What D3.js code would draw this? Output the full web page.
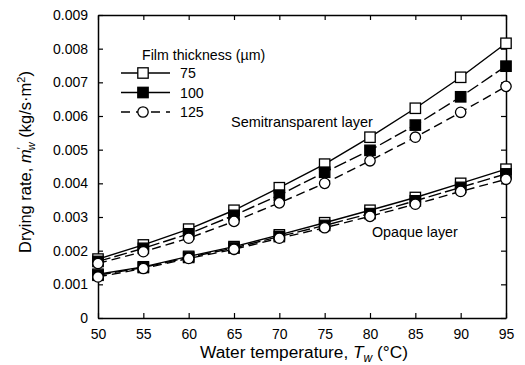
<!DOCTYPE html>
<html>
<head>
<meta charset="utf-8">
<script src="https://cdn.jsdelivr.net/npm/d3@7"></script>
<style>
  body { margin: 0; background: #fff; }
  text { font-family: "Liberation Sans", Arial, sans-serif; fill: #000; }
</style>
</head>
<body>
<div id="chart"></div>
<script>
// water temperature (deg C)
const temps = [50, 55, 60, 65, 70, 75, 80, 85, 90, 95];
const thickness = ["75", "100", "125"];

// drying rate, semitransparent layer (kg/s·m2)
const semi75  = [0.00175, 0.00217, 0.00264, 0.00320, 0.00387, 0.00457, 0.00537, 0.00623, 0.00715, 0.00816];
const semi100 = [0.00168, 0.00207, 0.00250, 0.00305, 0.00365, 0.00433, 0.00498, 0.00573, 0.00657, 0.00748];
const semi125 = [0.00162, 0.00197, 0.00237, 0.00287, 0.00342, 0.00400, 0.00467, 0.00537, 0.00611, 0.00688];

// drying rate, opaque layer
const opaq75  = [0.00130, 0.00152, 0.00183, 0.00212, 0.00247, 0.00283, 0.00320, 0.00358, 0.00400, 0.00442];
const opaq100 = [0.00127, 0.00150, 0.00180, 0.00208, 0.00242, 0.00275, 0.00310, 0.00348, 0.00388, 0.00428];
const opaq125 = [0.00122, 0.00147, 0.00177, 0.00204, 0.00237, 0.00268, 0.00302, 0.00338, 0.00376, 0.00412];

const xTicks = [50, 55, 60, 65, 70, 75, 80, 85, 90, 95];
const yTicks = [0, 0.001, 0.002, 0.003, 0.004, 0.005, 0.006, 0.007, 0.008, 0.009];

const series = [
  { key: "75",  vals: semi75,  marker: "sqOpen" },
  { key: "100", vals: semi100, marker: "sqFill" },
  { key: "125", vals: semi125, marker: "circ" },
  { key: "75",  vals: opaq75,  marker: "sqOpen" },
  { key: "100", vals: opaq100, marker: "sqFill" },
  { key: "125", vals: opaq125, marker: "circ" }
];
const dashes = { "75": null, "100": "13,4", "125": "9,5" };

var W = 525, H = 365;
var margin = {top: 15, right: 19, bottom: 47, left: 98},
  width = W - margin.left - margin.right,
  height = H - margin.top - margin.bottom;

var svg = d3.select("#chart").append("svg")
  .attr("width", W)
  .attr("height", H);

var g = svg.append("g")
  .attr("transform", "translate(" + margin.left + "," + margin.top + ")");

var x = d3.scaleLinear().domain([50, 95]).range([0, width]);
var y = d3.scaleLinear().domain([0, 0.009]).range([height, 0]);

// axes, ticks pointing inward on all four sides
function styleAxis(sel) {
  sel.selectAll("path").attr("stroke", "#000").attr("stroke-width", 1.5);
  sel.selectAll("line").attr("stroke", "#000").attr("stroke-width", 1.2);
}

g.append("g")
  .attr("transform", "translate(0," + height + ")")
  .call(d3.axisBottom(x).tickValues(xTicks).tickSizeInner(-5).tickSizeOuter(0).tickPadding(11).tickFormat(d3.format("d")))
  .call(styleAxis)
  .selectAll("text").style("font-size", "14px").attr("font-family", null);

g.append("g")
  .call(d3.axisTop(x).tickValues(xTicks).tickSizeInner(-5).tickSizeOuter(0).tickFormat(""))
  .call(styleAxis);

g.append("g")
  .call(d3.axisLeft(y).tickValues(yTicks).tickSizeInner(-5).tickSizeOuter(0).tickPadding(10)
    .tickFormat(d => d === 0 ? "0" : d3.format(".3f")(d)))
  .call(styleAxis)
  .selectAll("text").style("font-size", "14px").attr("font-family", null);

g.append("g")
  .attr("transform", "translate(" + width + ",0)")
  .call(d3.axisRight(y).tickValues(yTicks).tickSizeInner(-5).tickSizeOuter(0).tickFormat(""))
  .call(styleAxis);

var line = d3.line()
  .x((d, i) => x(temps[i]))
  .y(d => y(d));

function drawMarker(sel, type, cx, cy) {
  if (type === "circ") {
    sel.append("circle").attr("cx", cx).attr("cy", cy).attr("r", 5.2)
      .attr("fill", "#fff").attr("stroke", "#000").attr("stroke-width", 1.3);
  } else {
    sel.append("rect").attr("x", cx - 5.2).attr("y", cy - 5.2).attr("width", 10.4).attr("height", 10.4)
      .attr("fill", type === "sqFill" ? "#000" : "#fff").attr("stroke", "#000").attr("stroke-width", 1.3);
  }
}

series.forEach(function(s) {
  g.append("path")
    .datum(s.vals)
    .attr("d", line)
    .attr("fill", "none")
    .attr("stroke", "#000")
    .attr("stroke-width", 1.4)
    .attr("stroke-dasharray", dashes[s.key]);
});
series.forEach(function(s) {
  var mg = g.append("g");
  s.vals.forEach((v, i) => drawMarker(mg, s.marker, x(temps[i]), y(v)));
});

// legend
var leg = svg.append("g");
leg.append("text").attr("x", 142).attr("y", 59.5).style("font-size", "14.2px").text("Film thickness (\u00b5m)");
[["75", "sqOpen"], ["100", "sqFill"], ["125", "circ"]].forEach(function(d, i) {
  var cy = 73 + i * 19.5;
  leg.append("line").attr("x1", 121).attr("x2", 170).attr("y1", cy).attr("y2", cy)
    .attr("stroke", "#000").attr("stroke-width", 1.3)
    .attr("stroke-dasharray", d[0] === "125" ? "9,6" : null);
  drawMarker(leg, d[1], 143, cy);
  leg.append("text").attr("x", 180).attr("y", cy + 5).style("font-size", "14.2px").text(d[0]);
});

// annotations
svg.append("text").attr("x", 231).attr("y", 127).style("font-size", "14.5px").text("Semitransparent layer");
svg.append("text").attr("x", 372).attr("y", 237).style("font-size", "14.3px").text("Opaque layer");

// axis titles
var xt = svg.append("text").attr("x", 304).attr("y", 358)
  .attr("text-anchor", "middle").style("font-size", "17.3px");
xt.append("tspan").text("Water temperature, ");
xt.append("tspan").style("font-style", "italic").text("T");
xt.append("tspan").style("font-style", "italic").style("font-size", "12px").attr("dy", 4).text("w");
xt.append("tspan").attr("dy", -4).text(" (\u00b0C)");

var yt = svg.append("text")
  .attr("transform", "translate(31,162) rotate(-90)")
  .attr("text-anchor", "middle").style("font-size", "16.5px");
yt.append("tspan").text("Drying rate, ");
yt.append("tspan").style("font-style", "italic").text("m");
yt.append("tspan").style("font-size", "11px").attr("dy", -6).text("\u2032");
yt.append("tspan").style("font-style", "italic").style("font-size", "11px").attr("dx", -3).attr("dy", 10).text("w");
yt.append("tspan").attr("dy", -4).text(" (kg/s\u00b7m");
yt.append("tspan").style("font-size", "11px").attr("dy", -6).text("2");
yt.append("tspan").attr("dy", 6).text(")");
</script>
</body>
</html>
